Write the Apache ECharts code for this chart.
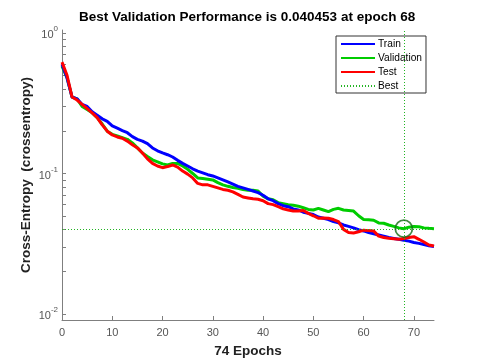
<!DOCTYPE html>
<html><head><meta charset="utf-8">
<script src="https://cdn.jsdelivr.net/npm/echarts@6/dist/echarts.min.js"></script>
<style>html,body{margin:0;padding:0;background:#fff}#c{width:480px;height:360px}</style>
</head><body><div id="c"></div>
<script>
const epochs = Array.from({length: 75}, (_, i) => i);
const train = [0.60,0.48,0.35,0.34,0.31,0.30,0.275,0.26,0.245,0.235,
  0.218,0.210,0.202,0.195,0.183,0.175,0.170,0.163,0.152,0.145,
  0.140,0.136,0.131,0.124,0.118,0.113,0.108,0.104,0.101,0.098,
  0.096,0.093,0.090,0.087,0.084,0.081,0.079,0.077,0.075,0.073,
  0.070,0.066,0.064,0.061,0.059,0.058,0.056,0.055,0.053,0.052,
  0.051,0.049,0.048,0.047,0.0455,0.0445,0.043,0.042,0.041,0.0398,
  0.039,0.038,0.0372,0.0365,0.0358,0.035,0.0345,0.034,0.0335,0.033,
  0.0323,0.0318,0.0312,0.0306,0.0302];
const validation = [0.58,0.48,0.35,0.34,0.30,0.285,0.27,0.25,0.225,0.20,
  0.19,0.185,0.18,0.175,0.165,0.152,0.14,0.132,0.125,0.121,
  0.117,0.115,0.118,0.118,0.113,0.107,0.100,0.093,0.092,0.091,
  0.090,0.086,0.083,0.081,0.0795,0.0785,0.077,0.076,0.076,0.075,
  0.069,0.066,0.065,0.062,0.061,0.060,0.0595,0.0585,0.057,0.0555,
  0.055,0.0565,0.055,0.0535,0.0555,0.0565,0.055,0.0545,0.054,0.050,
  0.047,0.0468,0.0465,0.0445,0.0442,0.043,0.042,0.041,0.040453,0.0415,
  0.042,0.0418,0.041,0.0407,0.0405];
const test = [0.62,0.50,0.35,0.333,0.31,0.29,0.27,0.25,0.222,0.20,
  0.188,0.182,0.178,0.17,0.16,0.152,0.14,0.127,0.118,0.113,
  0.11,0.112,0.115,0.111,0.104,0.099,0.093,0.085,0.083,0.083,
  0.081,0.079,0.077,0.076,0.074,0.071,0.068,0.067,0.066,0.0655,
  0.064,0.061,0.060,0.058,0.056,0.055,0.054,0.054,0.0545,0.052,
  0.050,0.048,0.0482,0.048,0.047,0.0455,0.040,0.038,0.0377,0.0385,
  0.0395,0.0392,0.039,0.0358,0.035,0.0346,0.0343,0.034,0.0345,0.035,
  0.0355,0.034,0.0325,0.031,0.0305];
const bestEpoch = 68;
const bestValue = 0.040453;
const xTicks = [0,10,20,30,40,50,60,70];
const yMajor = [0.01,0.1,1];
const yMinor = [0.02,0.03,0.04,0.05,0.06,0.07,0.08,0.09,0.2,0.3,0.4,0.5,0.6,0.7,0.8,0.9];
const seriesNames = ['Train','Validation','Test','Best'];

const pair = arr => epochs.map((e, i) => [e, arr[i]]);
const font = 'Liberation Sans, Arial, sans-serif';
const axisGray = '#7f7f7f';
const labelGray = '#555';
const bestGreen = '#22b422';
const supNames = {'0.01':'-2','0.1':'-1','1':'0'};

const chart = echarts.init(document.getElementById('c'), null, {renderer:'canvas'});
chart.setOption({
  backgroundColor:'#fff',
  animation:false,
  title:{text:'Best Validation Performance is 0.040453 at epoch 68', left:74, top:5,
    textStyle:{fontFamily:font, fontSize:13.5, fontWeight:'bold', color:'#000'}},
  grid:{left:62, right:46, top:30, bottom:40, outerBoundsMode:'none', containLabel:false},
  legend:{data:seriesNames, orient:'vertical', left:336, top:36, backgroundColor:'#fff',
    borderColor:'#333', borderWidth:1, borderRadius:0, padding:[3,4,2,4], itemGap:4,
    itemWidth:34, itemHeight:11, itemStyle:{opacity:0},
    textStyle:{fontFamily:font, fontSize:10.2, color:'#000', padding:[0,0,0,-2]}},
  xAxis:{type:'value', min:0, max:74, interval:10,
    name:'74 Epochs', nameLocation:'middle', nameGap:24, nameMoveOverlap:false,
    nameTextStyle:{fontFamily:font, fontSize:13.5, fontWeight:'bold', color:'#222'},
    axisLine:{lineStyle:{color:axisGray, width:1}},
    axisTick:{inside:true, length:4, customValues:xTicks, lineStyle:{color:axisGray}},
    axisLabel:{customValues:xTicks, margin:7, fontFamily:font, fontSize:11, color:labelGray},
    splitLine:{show:false}},
  yAxis:{type:'log', logBase:10, min:0.00906, max:1.05,
    name:'Cross-Entropy  (crossentropy)', nameLocation:'middle', nameGap:29, nameMoveOverlap:false,
    nameTextStyle:{fontFamily:font, fontSize:13.5, fontWeight:'bold', color:'#222'},
    axisLine:{show:true, lineStyle:{color:axisGray, width:1}},
    axisTick:{inside:true, length:4, customValues:yMajor.concat(yMinor), lineStyle:{color:axisGray}},
    axisLabel:{customValues:yMajor, margin:4, fontFamily:font, fontSize:11, color:labelGray,
      formatter: v => { const k = String(+v.toPrecision(3)); return '{b|10}{s|' + (supNames[k] || '') + '}'; },
      rich:{b:{fontFamily:font, fontSize:11, color:labelGray, padding:[4,0,0,0]}, s:{fontFamily:font, fontSize:8, color:labelGray, padding:[0,0,8,0]}}},
    splitLine:{show:false}},
  series:[
    {name:'Train', type:'line', data:pair(train), showSymbol:false, symbol:'none', lineStyle:{color:'#0000ff', width:3}, itemStyle:{color:'#0000ff'}, z:3},
    {name:'Validation', type:'line', data:pair(validation), showSymbol:false, symbol:'none', lineStyle:{color:'#00cc00', width:3}, itemStyle:{color:'#00cc00'}, z:2},
    {name:'Test', type:'line', data:pair(test), showSymbol:false, symbol:'none', lineStyle:{color:'#ff0000', width:3}, itemStyle:{color:'#ff0000'}, z:4},
    {name:'Best', type:'line', data:[], symbol:'none', lineStyle:{color:bestGreen, width:1, type:[1,2]}, itemStyle:{color:bestGreen},
      markLine:{silent:true, symbol:'none', label:{show:false}, lineStyle:{color:bestGreen, width:1, type:[1,2], opacity:1},
        emphasis:{disabled:true}, data:[{xAxis:bestEpoch},{yAxis:bestValue}]}, z:1},
    {name:'BestPoint', type:'scatter', data:[[bestEpoch, bestValue]], symbol:'circle', symbolSize:17,
      itemStyle:{color:'rgba(0,0,0,0)', borderColor:'#136b13', borderWidth:1.8}, z:6}
  ]
});
</script></body></html>
